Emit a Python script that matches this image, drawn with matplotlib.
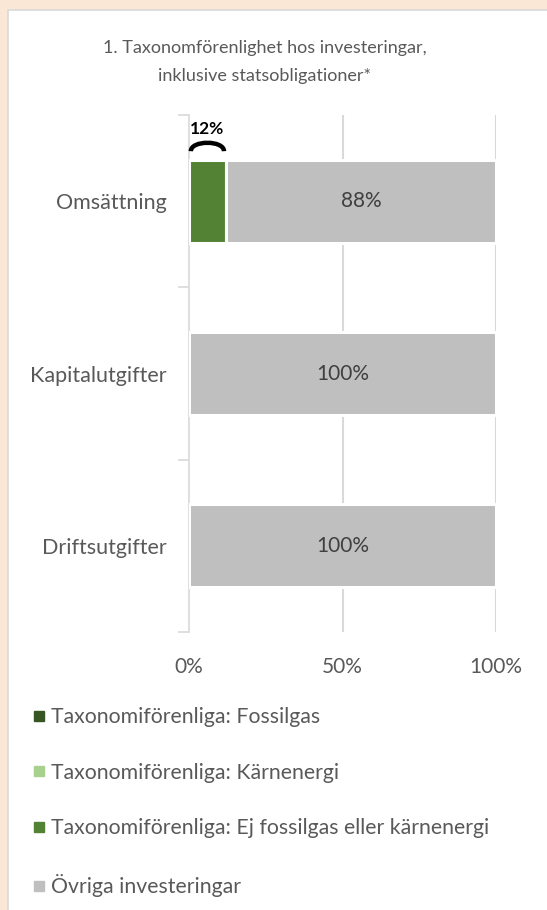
import matplotlib
matplotlib.use("Agg")
import matplotlib.pyplot as plt
from matplotlib.patches import Rectangle, PathPatch
from matplotlib.path import Path
from matplotlib.lines import Line2D
from matplotlib.ticker import FixedLocator, FuncFormatter

plt.rcParams['font.family'] = ['Lato', 'DejaVu Sans']

categories = ["Omsättning", "Kapitalutgifter", "Driftsutgifter"]
series_names = ["Taxonomiförenliga: Fossilgas",
                "Taxonomiförenliga: Kärnenergi",
                "Taxonomiförenliga: Ej fossilgas eller kärnenergi",
                "Övriga investeringar"]
fossilgas = [0, 0, 0]
karnenergi = [0, 0, 0]
ej_fossil = [12, 0, 0]
ovriga = [88, 100, 100]
colors = ["#375623", "#A9D18E", "#548235", "#BFBFBF"]
title = "1. Taxonomförenlighet hos investeringar,\ninklusive statsobligationer*"
xticks = [0, 50, 100]

W, H = 547, 910
fig = plt.figure(figsize=(W / 100, H / 100), dpi=100)
fig.patch.set_facecolor("#FBE7D6")
panel = Rectangle((8 / W, -0.01), 1.0, 1 - 10 / H + 0.01, transform=fig.transFigure,
                  facecolor="white", edgecolor="#D9D9D9", lw=1.2, zorder=-10)
fig.patches.append(panel)

ax = fig.add_axes([189 / W, 1 - 632 / H, 307 / W, 517 / H])
ax.set_zorder(2)
ax.set_facecolor("none")
ypos = list(range(len(categories)))
series = [fossilgas, karnenergi, ej_fossil, ovriga]
left = [0] * len(categories)
for vals, col, name in zip(series, colors, series_names):
    ax.barh(ypos, vals, left=left, height=0.48, color=col, edgecolor="white",
            linewidth=2.2, zorder=3, label=name)
    left = [l + v for l, v in zip(left, vals)]

# data labels on the "Övriga" series
start = [a + b + c for a, b, c in zip(fossilgas, karnenergi, ej_fossil)]
for y, s, v in zip(ypos, start, ovriga):
    ax.text(s + v / 2, y, f"{v}%", ha="center", va="center", fontsize=15,
            color="#404040", zorder=4)

# callout for small green value
for y, v in zip(ypos, ej_fossil):
    if v > 0:
        x0 = start[y] - v + 0.6
        x1 = start[y] - 0.6
        yb = y - 0.29
        yt = y - 0.355
        path = Path([(x0, yb), (x0, yt), (x1, yt), (x1, yb)],
                    [Path.MOVETO, Path.CURVE4, Path.CURVE4, Path.CURVE4])
        ax.add_patch(PathPatch(path, facecolor="none", edgecolor="black", lw=3.2,
                               zorder=4, clip_on=False, capstyle="butt"))
        ax.text((x0 + x1) / 2, y - 0.42, f"{v}%", ha="center", va="center",
                fontsize=12.5, fontweight="bold", color="black", zorder=4)

ax.set_xlim(0, 100)
ax.set_ylim(len(categories) - 0.5, -0.5)
ax.set_xticks(xticks)
ax.xaxis.set_major_formatter(FuncFormatter(lambda v, p: f"{v:.0f}%"))
ax.tick_params(axis="x", length=0, pad=18, labelsize=15, labelcolor="#595959")
ax.set_yticks(ypos)
ax.set_yticklabels(categories)
ax.tick_params(axis="y", which="major", length=0, pad=16, labelsize=15.5,
               labelcolor="#595959")
ax.yaxis.set_minor_locator(FixedLocator([i - 0.5 for i in range(len(categories) + 1)]))
ax.tick_params(axis="y", which="minor", length=8, width=1.2, color="#D9D9D9")
for sp in ["top", "right", "bottom"]:
    ax.spines[sp].set_visible(False)
ax.spines["left"].set_color("#D9D9D9")
ax.spines["left"].set_linewidth(1.2)
for xv in xticks[1:]:
    ax.axvline(xv, color="#D9D9D9", lw=1.5, zorder=1)

fig.text(265 / W, 1 - 62 / H, title, ha="center", va="center", fontsize=13,
         color="#595959", linespacing=1.85)

handles = [Line2D([], [], marker="s", linestyle="none", markersize=6.5,
                  markerfacecolor=c, markeredgecolor=c) for c in colors]
leg = fig.legend(handles, series_names, loc="upper left",
                 bbox_to_anchor=(33 / W, 1 - 707 / H), frameon=False,
                 fontsize=15.3, labelcolor="#595959", handlelength=0.6,
                 handletextpad=0.25, labelspacing=1.68, borderaxespad=0,
                 borderpad=0)

fig.savefig("out.png", dpi=100, facecolor=fig.get_facecolor())
